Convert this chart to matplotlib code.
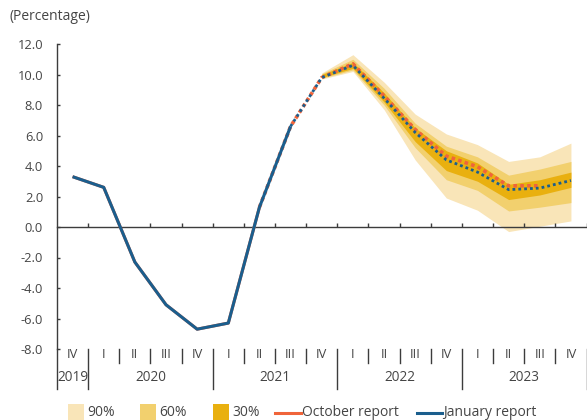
import numpy as np
import matplotlib
matplotlib.use("Agg")
import matplotlib.pyplot as plt
from matplotlib.patches import Rectangle
from matplotlib.lines import Line2D

plt.rcParams["font.family"] = ["Open Sans", "DejaVu Sans"]

# Quarterly GDP growth, 2019 Q4 - 2023 Q4
quarters = ["IV", "I", "II", "III", "IV", "I", "II", "III", "IV",
            "I", "II", "III", "IV", "I", "II", "III", "IV"]
years = ["2019", "2020", "2021", "2022", "2023"]
quarters_per_year = [1, 4, 4, 4, 4]

january_report = [3.3, 2.6, -2.3, -5.1, -6.7, -6.3, 1.3, 6.6, 9.8,
                  10.6, 8.45, 6.2, 4.4, 3.6, 2.45, 2.55, 3.05]
october_report = [3.3, 2.6, -2.3, -5.1, -6.7, -6.3, 1.3, 6.6, 9.8,
                  10.7, 8.6, 6.4, 4.65, 3.95, 2.7, 2.7]
january_last_actual = 7   # solid up to 2021 Q3, projection afterwards
october_last_actual = 6   # solid up to 2021 Q2, projection afterwards

# Fan chart: 2021 Q4 - 2023 Q4
fan_start = 8
band90_low = [9.7, 10.2, 7.7, 4.4, 1.9, 1.1, -0.3, 0.05, 0.4]
band90_high = [10.1, 11.3, 9.5, 7.4, 6.1, 5.4, 4.3, 4.6, 5.5]
band60_low = [9.75, 10.3, 8.0, 5.2, 3.1, 2.4, 1.05, 1.3, 1.6]
band60_high = [10.05, 11.0, 9.1, 6.8, 5.3, 4.6, 3.4, 3.8, 4.3]
band30_low = [9.8, 10.4, 8.2, 5.6, 3.7, 3.0, 1.8, 2.1, 2.6]
band30_high = [10.0, 10.8, 8.8, 6.5, 5.0, 4.2, 2.8, 3.1, 3.6]

y_ticks = [-8, -6, -4, -2, 0, 2, 4, 6, 8, 10, 12]

c90, c60, c30 = "#f9e5b8", "#f2d06e", "#e9b00f"
c_oct, c_jan = "#f0643a", "#1b5e8d"
c_axis = "#3c3c3c"
c_text = "#454545"

W, H = 587, 420
fig = plt.figure(figsize=(W / 100, H / 100), dpi=100)
ax_l, ax_r, ax_t, ax_b = 57, 586.5, 44, 349
ax = fig.add_axes([ax_l / W, 1 - ax_b / H, (ax_r - ax_l) / W, (ax_b - ax_t) / H])

n = len(quarters)
x = np.arange(n)
xf = x[fan_start:fan_start + len(band90_low)]

ax.fill_between(xf, band90_low, band90_high, color=c90, lw=0, zorder=1)
ax.fill_between(xf, band60_low, band60_high, color=c60, lw=0, zorder=1.1)
ax.fill_between(xf, band30_low, band30_high, color=c30, lw=0, zorder=1.2)

xo = x[:len(october_report)]
ax.plot(xo[:october_last_actual + 1], october_report[:october_last_actual + 1],
        color=c_oct, lw=2.2, solid_capstyle="butt", zorder=3)
ax.plot(xo[october_last_actual:], october_report[october_last_actual:],
        color=c_oct, lw=2.6, linestyle=(0, (1, 0.9)), zorder=3)

ax.plot(x[:january_last_actual + 1], january_report[:january_last_actual + 1],
        color=c_jan, lw=2.2, solid_capstyle="butt", zorder=4)
ax.plot(x[january_last_actual:], january_report[january_last_actual:],
        color=c_jan, lw=2.0, linestyle=(0, (1, 1.1)), zorder=4)

ax.set_xlim(-0.5, n - 0.5)
ax.set_ylim(-8, 12)

for s in ["top", "right"]:
    ax.spines[s].set_visible(False)
ax.spines["bottom"].set_position(("data", 0))
ax.spines["bottom"].set_color(c_axis)
ax.spines["left"].set_color(c_axis)
ax.spines["bottom"].set_linewidth(1.0)
ax.spines["left"].set_linewidth(1.0)

ax.set_xticks(np.arange(0.5, n, 1.0))
ax.set_xticklabels([])
ax.tick_params(axis="x", direction="in", length=3, width=1, color=c_axis)

ax.set_yticks(y_ticks)
ax.set_yticklabels([f"{v:.1f}" for v in y_ticks])
ax.tick_params(axis="y", direction="in", length=2, width=1, color=c_axis,
               pad=10, labelsize=9.3, labelcolor=c_text)

# Category axis: quarters and years under the plot
tr = ax.get_xaxis_transform()
px = 1.0 / (ax_b - ax_t)
q_sep_bottom = -14 * px
y_sep_bottom = -40 * px
for i, q in enumerate(quarters):
    ax.text(i, -6 * px, q, transform=tr, ha="center", va="center",
            fontsize=9.3, color=c_text)
pos = -0.5
for yr, k in zip(years, quarters_per_year):
    ax.plot([pos, pos], [0, y_sep_bottom], transform=tr, color=c_axis,
            lw=1.0, clip_on=False)
    for j in range(1, k):
        ax.plot([pos + j, pos + j], [0, q_sep_bottom], transform=tr,
                color=c_axis, lw=1.0, clip_on=False)
    ax.text(pos + k / 2, -28.5 * px, yr, transform=tr, ha="center",
            va="center", fontsize=9.8, color=c_text)
    pos += k
ax.plot([pos, pos], [0, y_sep_bottom], transform=tr, color=c_axis,
        lw=1.0, clip_on=False)

fig.text(10 / W, 1 - 17 / H, "(Percentage)", ha="left", va="center",
         fontsize=10, color=c_text)

# Legend row
def fx(p):
    return p / W

def fy(p):
    return 1 - p / H

leg_y = 412.5
for x0, col, lab in [(68, c90, "90%"), (140, c60, "60%"), (213, c30, "30%")]:
    fig.add_artist(Rectangle((fx(x0), fy(420)), 16 / W, 16 / H,
                             transform=fig.transFigure, color=col, lw=0))
    fig.text(fx(x0 + 19), fy(leg_y), lab, ha="left", va="center",
             fontsize=10, color=c_text)
for x0, x1, col, lab in [(275, 301, c_oct, "October report"),
                         (417, 442, c_jan, "January report")]:
    fig.add_artist(Line2D([fx(x0), fx(x1)], [fy(413), fy(413)],
                          transform=fig.transFigure, color=col, lw=2.2))
    fig.text(fx(x1 + 1), fy(leg_y), lab, ha="left", va="center",
             fontsize=10, color=c_text)

fig.savefig("out.png", dpi=100)
